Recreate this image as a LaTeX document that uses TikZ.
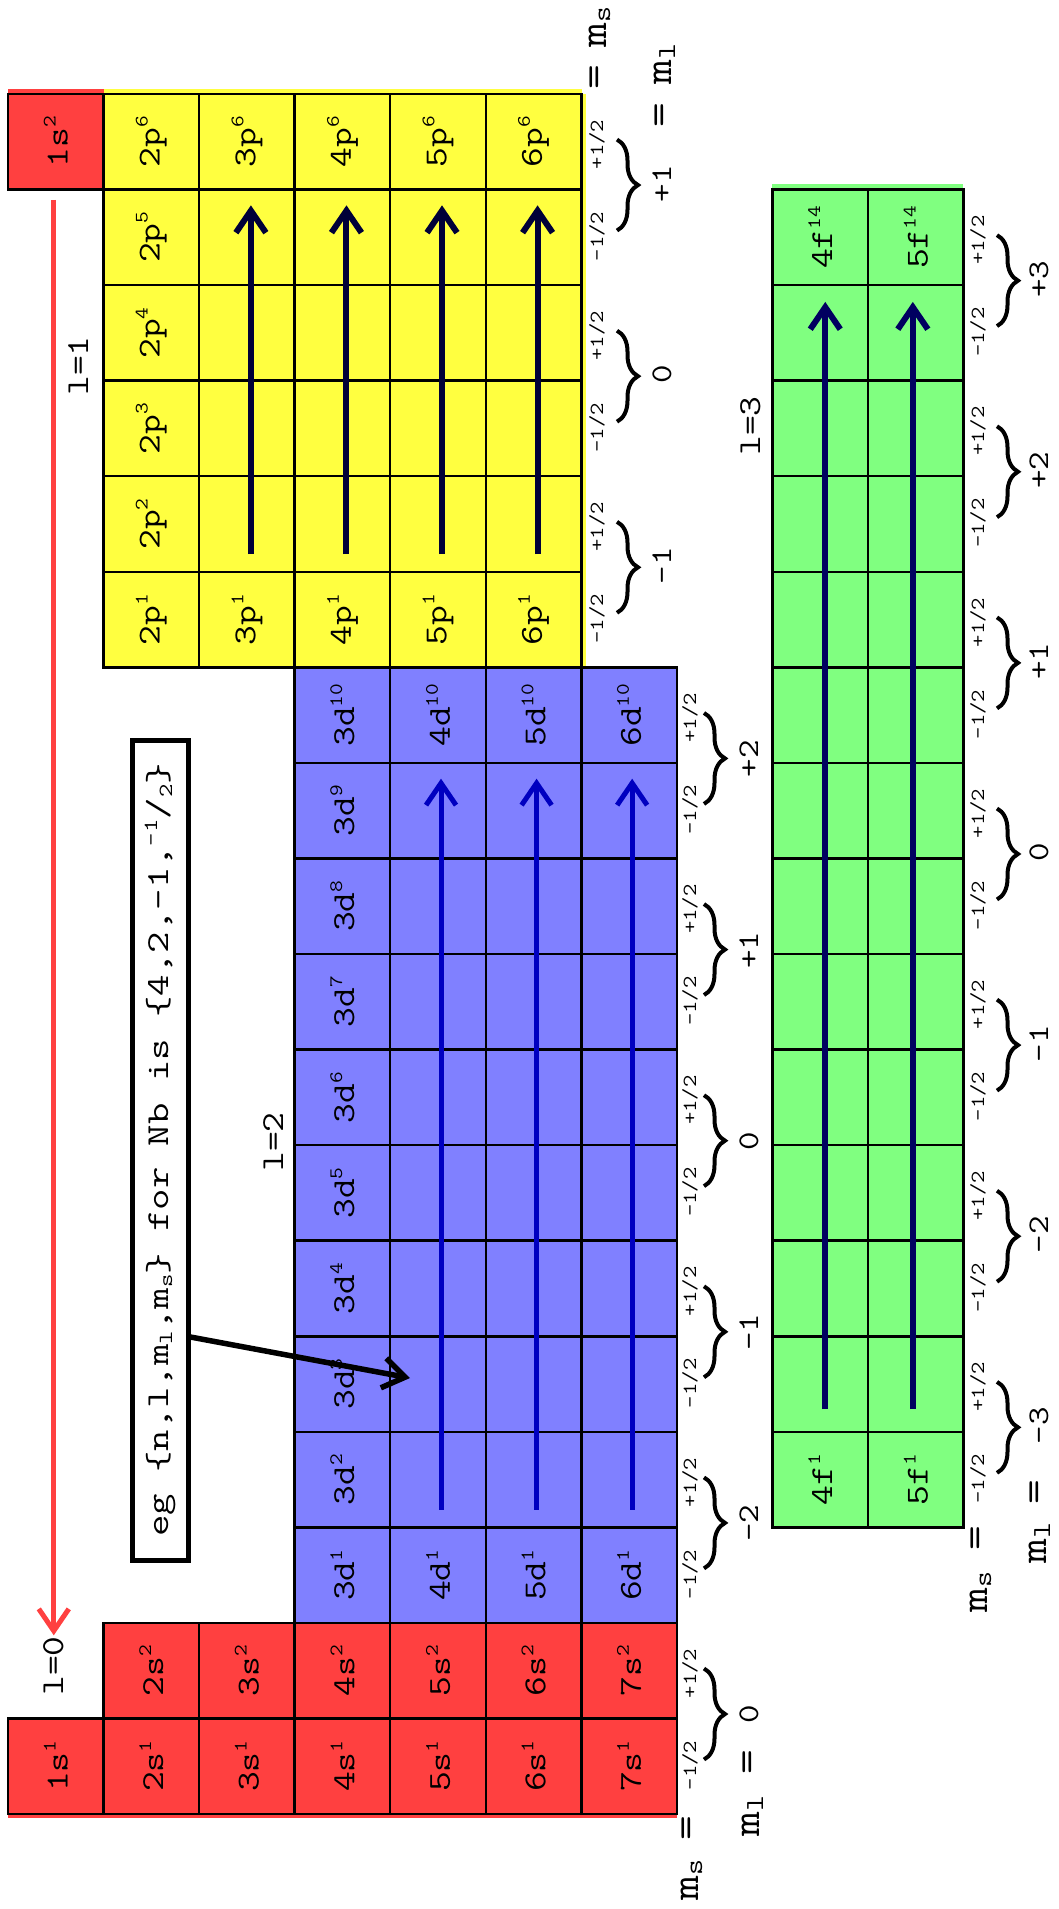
\documentclass[tikz,border=0pt]{standalone}
\usepackage{graphicx}
\usetikzlibrary{arrows.meta,decorations.pathreplacing,calc}
\definecolor{cred}{RGB}{255,64,64}
\definecolor{cyel}{RGB}{255,255,64}
\definecolor{cblu}{RGB}{128,128,255}
\definecolor{cgrn}{RGB}{128,255,128}
\definecolor{ynavy}{RGB}{0,0,56}
\definecolor{arblue}{RGB}{0,0,192}
\definecolor{gnavy}{RGB}{0,0,96}
\newcommand{\sx}[2][1.2]{\scalebox{#1}[1]{#2}}
\newcommand{\spr}[1]{\raisebox{12pt}{\fontsize{19}{19}\selectfont #1}}
\newcommand{\bsub}[1]{\raisebox{-4pt}{\fontsize{26}{26}\selectfont #1}}
\newcommand{\tsub}[1]{\raisebox{-4pt}{\fontsize{20}{20}\selectfont #1}}
\newcommand{\tsup}[1]{\raisebox{11pt}{\fontsize{20}{20}\selectfont #1}}
\tikzset{
 cell/.style={draw, line width=2.5pt, minimum size=95.56pt, inner sep=0pt, rotate=90, font=\fontsize{32}{32}\selectfont\ttfamily},
 sublab/.style={rotate=90, anchor=base, inner sep=0pt, font=\fontsize{20}{20}\selectfont\ttfamily},
 mlab/.style={rotate=90, anchor=base, inner sep=0pt, font=\fontsize{30}{30}\selectfont\ttfamily},
 biglab/.style={rotate=90, anchor=base, inner sep=0pt, font=\fontsize{40}{40}\selectfont\ttfamily},
 llab/.style={rotate=90, anchor=base, inner sep=0pt, font=\fontsize{32}{32}\selectfont\ttfamily},
 brc/.style={decorate, decoration={brace, amplitude=21pt}, line width=4pt},
 arr/.style={line width=6pt, -{Straight Barb[length=22pt,width=30pt]}},
 egbox/.style={draw, line width=5pt, rotate=90, minimum width=820pt, minimum height=56pt, inner sep=0pt, font=\fontsize{32}{32}\selectfont\ttfamily}
}
\begin{document}
\begin{tikzpicture}[x=1pt,y=-1pt]
\useasboundingbox (0,0) rectangle (1058,1909);
% slight fill overhangs
\fill[cred] (8,89) rectangle (104,96);
\fill[cyel] (104,89) rectangle (582,96);
\fill[cyel] (580,94) rectangle (586,667);
\fill[cgrn] (772,184) rectangle (963,190);
\fill[cred] (8,1812) rectangle (677,1818);
% s block
\node[cell, fill=cred] (s1-2) at ({8+0.5*95.56},{94+0.5*95.56}) {\sx{1s\spr{2}}};
\node[cell, fill=cred] (s1-1) at ({8+0.5*95.56},{94+17.5*95.56}) {\sx{1s\spr{1}}};
\foreach \n in {2,...,7}{
  \node[cell, fill=cred] (s\n-2) at ({8+(\n-0.5)*95.56},{94+16.5*95.56}) {\sx{\n s\spr{2}}};
  \node[cell, fill=cred] (s\n-1) at ({8+(\n-0.5)*95.56},{94+17.5*95.56}) {\sx{\n s\spr{1}}};
}
% p block
\foreach \n in {2,...,6}{\foreach \j in {0,...,5}{
  \pgfmathtruncatemacro{\ee}{6-\j}
  \pgfmathtruncatemacro{\shw}{or(\n==2,or(\j==0,\j==5))}
  \node[cell, fill=cyel] (p\n-\ee) at ({8+(\n-0.5)*95.56},{94+(\j+0.5)*95.56}) {\ifnum\shw=1 \sx{\n p\spr{\ee}}\fi};
}}
% d block
\foreach \n in {3,...,6}{\foreach \j in {6,...,15}{
  \pgfmathtruncatemacro{\ee}{16-\j}
  \pgfmathtruncatemacro{\shw}{or(\n==3,or(\j==6,\j==15))}
  \node[cell, fill=cblu] (d\n-\ee) at ({8+(\n+0.5)*95.56},{94+(\j+0.5)*95.56}) {\ifnum\shw=1 \sx{\n d\spr{\ee}}\fi};
}}
% f block
\foreach \n in {4,5}{\foreach \j in {1,...,14}{
  \pgfmathtruncatemacro{\ee}{15-\j}
  \pgfmathtruncatemacro{\shw}{or(\j==1,\j==14)}
  \node[cell, fill=cgrn] (f\n-\ee) at ({8+(\n+4.5)*95.56},{94+(\j+0.5)*95.56}) {\ifnum\shw=1 \sx{\n f\spr{\ee}}\fi};
}}
% arrows
\foreach \n in {3,...,6}{\draw[arr, draw=ynavy] ($(p\n-2)+(4,30)$) -- ($(p\n-5)+(4,-32)$);}
\foreach \n in {4,5,6}{\draw[arr, line width=5pt, draw=arblue] ($(d\n-2)+(3,30)$) -- ($(d\n-9)+(3,-32)$);}
\draw[arr, draw=gnavy] ($(f4-2)+(5,25)$) -- ($(f4-13)+(5,-31)$);
\draw[arr, draw=gnavy] ($(f5-2)+(-3,25)$) -- ($(f5-13)+(-3,-31)$);
\draw[arr, line width=5pt, draw=cred] ($(s1-2)+(-2,58)$) -- ($(s1-1)+(-2,-131)$);
% example box
\node[egbox] (eg) at (160,1150) {\sx[1.3]{eg \{n,l,m\tsub{l},m\tsub{s}\} for Nb is \{4,2,-1,\tsup{-1}/\tsub{2}\}}};
\coordinate (egtip) at (410,1378);
\draw[arr, line width=5.5pt, draw=black] ($(eg.south)+(0,187)$) -- (egtip);
% yellow braces
\foreach \r/\v [count=\k] in {0/{+1},2/0,4/{-1}}{
  \pgfmathsetmacro{\bb}{94+(\r+1)*95.56}
  \node[sublab] (ysp\k) at (603,{\bb-45}) {\sx{+1/2}};
  \node[sublab] (ysm\k) at (603,{\bb+47}) {\sx{-1/2}};
  \draw[brc] (617,{\bb-50}) -- (617,{\bb+41});
  \node[mlab] (yml\k) at (671,{\bb-6}) {\sx{\v}};
}
% blue + red braces
\foreach \r/\v [count=\k] in {6/{+2},8/{+1},10/0,12/{-1},14/{-2},16/0}{
  \pgfmathsetmacro{\bb}{94+(\r+1)*95.56}
  \node[sublab] (bsp\k) at (696,{\bb-45}) {\sx{+1/2}};
  \node[sublab] (bsm\k) at (696,{\bb+47}) {\sx{-1/2}};
  \draw[brc] (704,{\bb-50}) -- (704,{\bb+41});
  \node[mlab] (bml\k) at (758,{\bb-4}) {\sx{\v}};
}
% green braces
\foreach \r/\v [count=\k] in {1/{+3},3/{+2},5/{+1},7/0,9/{-1},11/{-2},13/{-3}}{
  \pgfmathsetmacro{\bb}{94+(\r+1)*95.56}
  \node[sublab] (gsp\k) at (984,{\bb-45}) {\sx{+1/2}};
  \node[sublab] (gsm\k) at (984,{\bb+47}) {\sx{-1/2}};
  \draw[brc] (997,{\bb-50}) -- (997,{\bb+41});
  \node[mlab] (gml\k) at (1048,{\bb-6}) {\sx{\v}};
}
% m_s / m_l captions
\node[biglab] (yeqs) at (606,77) {\sx{=}};
\node[biglab] (yms) at (606,27) {\sx{m\bsub{s}}};
\node[biglab] (yeql) at (671,115) {\sx{=}};
\node[biglab] (ymlt) at (671,64) {\sx{m\bsub{l}}};
\node[biglab] (reqs) at (698,1828) {\sx{=}};
\node[biglab] (rms) at (698,1880) {\sx{m\bsub{s}}};
\node[biglab] (reql) at (759,1762) {\sx{=}};
\node[biglab] (rmlt) at (759,1816) {\sx{m\bsub{l}}};
\node[biglab] (geqs) at (987,1538) {\sx{=}};
\node[biglab] (gms) at (987,1592) {\sx{m\bsub{s}}};
\node[biglab] (geql) at (1046,1492) {\sx{=}};
\node[biglab] (gmlt) at (1046,1543) {\sx{m\bsub{l}}};
% l labels
\node[llab] (l0) at (63,1666) {\sx{l=0}};
\node[llab] (l1) at (88,366) {\sx{l=1}};
\node[llab] (l2) at (283,1142) {\sx{l=2}};
\node[llab] (l3) at (760,426) {\sx{l=3}};
\end{tikzpicture}
\end{document}
